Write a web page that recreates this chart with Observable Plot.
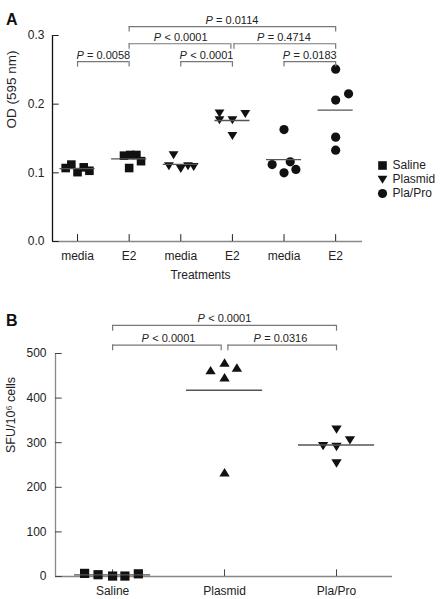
<!DOCTYPE html>
<html><head><meta charset="utf-8">
<script src="https://cdn.jsdelivr.net/npm/d3@7"></script>
<script src="https://cdn.jsdelivr.net/npm/@observablehq/plot@0.6"></script>
<style>
body{margin:0;background:#fff;}
#wrap{position:relative;width:444px;height:599px;font-family:"Liberation Sans",Arial,sans-serif;overflow:hidden;}
#wrap > .abs{position:absolute;}
.panel{position:absolute;font:bold 16px/16px "Liberation Sans",Arial,sans-serif;color:#111;}
svg{overflow:visible;}
</style></head><body><div id="wrap"></div>
<script>
// ---------- Panel A data ----------
const treatmentLabelsA = ["media","E2","media","E2","media","E2"];
const groupOfColumnA = ["Saline","Saline","Plasmid","Plasmid","Pla/Pro","Pla/Pro"];
const odSalineMedia   = [0.107, 0.112, 0.101, 0.108, 0.103];
const odSalineE2      = [0.125, 0.126, 0.126, 0.117, 0.107];
const odPlasmidMedia  = [0.126, 0.110, 0.106, 0.110, 0.109];
const odPlasmidE2     = [0.187, 0.177, 0.177, 0.186, 0.154];
const odPlaProMedia   = [0.163, 0.112, 0.100, 0.116, 0.105];
const odPlaProE2      = [0.251, 0.206, 0.215, 0.152, 0.133];
const odColumns = [odSalineMedia, odSalineE2, odPlasmidMedia, odPlasmidE2, odPlaProMedia, odPlaProE2];
// horizontal scatter of the points within each column (category units)
const jitterA = [
  [-0.23, -0.12, 0, 0.12, 0.23],
  [-0.10, 0.02, 0.14, 0.23, 0],
  [-0.14, -0.23, 0, 0.14, 0.25],
  [-0.25, -0.25, 0, 0.25, 0],
  [0, -0.23, 0, 0.12, 0.23],
  [0, 0, 0.25, 0, 0]
];
const yTicksA = [0, 0.1, 0.2, 0.3];
const bracketFromA  = [0, 2, 4, 1, 3, 1];
const bracketToA    = [1, 3, 5, 3, 5, 5];
const bracketTierA  = [0, 0, 0, 1, 1, 2];
const bracketLabelA = ["P = 0.0058","P < 0.0001","P = 0.0183","P < 0.0001","P = 0.4714","P = 0.0114"];

// ---------- Panel B data ----------
const groupsB = ["Saline","Plasmid","Pla/Pro"];
const sfuSaline  = [7, 4, 1, 1, 6];
const sfuPlasmid = [462, 479, 468, 446, 233];
const sfuPlaPro  = [330, 306, 293, 291, 254];
const sfuColumns = [sfuSaline, sfuPlasmid, sfuPlaPro];
const jitterB = [
  [-0.25, -0.13, 0, 0.11, 0.23],
  [-0.125, 0, 0.11, 0, 0],
  [0, 0.12, -0.12, 0, 0]
];
const yTicksB = [0, 100, 200, 300, 400, 500];
const bracketFromB  = [0, 0, 1];
const bracketToB    = [2, 1, 2];
const bracketTierB  = [1, 0, 0];
const bracketLabelB = ["P < 0.0001","P < 0.0001","P = 0.0316"];

const legendGroups = ["Saline","Plasmid","Pla/Pro"];

// ---------- symbols ----------
const squareSym = {draw(ctx, size){const r=Math.sqrt(size/Math.PI); ctx.rect(-r,-r,2*r,2*r);}};
const triDown = {draw(ctx, size){const r=Math.sqrt(size/Math.PI); ctx.moveTo(-1.2*r,-0.9*r); ctx.lineTo(1.2*r,-0.9*r); ctx.lineTo(0,1.05*r); ctx.closePath();}};
const triUp = {draw(ctx, size){const r=Math.sqrt(size/Math.PI); ctx.moveTo(-1.2*r,0.9*r); ctx.lineTo(1.2*r,0.9*r); ctx.lineTo(0,-1.05*r); ctx.closePath();}};
const INK = "#111";

function buildRows(columns, jitter, groupOf){
  const out = [];
  columns.forEach((vals, i) => vals.forEach((v, j) => out.push({i, x: i + jitter[i][j], value: v, group: groupOf[i]})));
  return out;
}
function buildMeans(columns){ return columns.map((vals, i) => ({i, mean: d3.mean(vals)})); }
function buildBrackets(from, to, tier, label){
  const b = from.map((f, k) => ({from: f, to: to[k], tier: tier[k], label: label[k]}));
  const gap = 0.03;
  b.forEach(d => {
    d.x1 = d.from; d.x2 = d.to;
    if (b.some(e => e !== d && e.tier === d.tier && e.to === d.from)) d.x1 += gap;
    if (b.some(e => e !== d && e.tier === d.tier && e.from === d.to)) d.x2 -= gap;
    d.mid = (d.from + d.to) / 2;
  });
  return b;
}
function bracketMarks(br, tierY, drop, stroke){
  const segs = [];
  br.forEach(d => { segs.push({x: d.x1, y: tierY[d.tier]}); segs.push({x: d.x2, y: tierY[d.tier]}); });
  return [
    Plot.ruleY(br, {y: d => tierY[d.tier], x1: "x1", x2: "x2", stroke, strokeWidth: 1.2}),
    Plot.ruleX(segs, {x: "x", y1: d => d.y - drop, y2: "y", stroke, strokeWidth: 1.2}),
    Plot.text(br, {x: "mid", y: d => tierY[d.tier], text: () => "P", fontStyle: "italic", fontSize: 11, lineAnchor: "bottom", dy: -3, dx: -23.3, fill: "#222"}),
    Plot.text(br, {x: "mid", y: d => tierY[d.tier], text: d => d.label.slice(1), fontSize: 11, lineAnchor: "bottom", textAnchor: "start", dy: -3, dx: -19.4, fill: "#222"})
  ];
}

const wrap = document.getElementById("wrap");
function place(node, left, top){ const d=document.createElement("div"); d.className="abs"; d.style.left=left+"px"; d.style.top=top+"px"; d.appendChild(node); wrap.appendChild(d); }

// ---------- Panel A ----------
const rowsA = buildRows(odColumns, jitterA, groupOfColumnA);
const meansA = buildMeans(odColumns);
const bracketsA = buildBrackets(bracketFromA, bracketToA, bracketTierA, bracketLabelA);
const xDomA = [-0.485, 5.52];
const symbolA = {"Saline": [squareSym, 4.3], "Plasmid": [triDown, 4.1], "Pla/Pro": ["circle", 4.6]};

const plotA = Plot.plot({
  width: 444, height: 286,
  marginLeft: 52, marginRight: 82, marginTop: 35, marginBottom: 45,
  style: {fontFamily: "'Liberation Sans', Arial, sans-serif", fontSize: "12px", color: "#222", background: "transparent", overflow: "visible"},
  x: {domain: xDomA, ticks: d3.range(6), tickFormat: i => treatmentLabelsA[i], tickSize: 0, tickPadding: 10, label: null},
  y: {domain: [0, 0.3], ticks: yTicksA, tickFormat: d3.format(".1f"), tickSize: 0, tickPadding: 8, label: null},
  marks: [
    Plot.ruleY([0], {stroke: "#888", strokeWidth: 1.3}),
    Plot.ruleX([xDomA[0]], {stroke: "#111", strokeWidth: 1.3}),
    Plot.ruleY(yTicksA, {y: d => d, x1: xDomA[0], x2: xDomA[0] + 0.13, stroke: "#222"}),
    Plot.ruleX(d3.range(6), {x: d => d, y1: 0, y2: 0.01, stroke: "#222"}),
    ...Object.entries(symbolA).map(([g, [sym, r]]) =>
      Plot.dot(rowsA.filter(d => d.group === g), {x: "x", y: "value", symbol: sym, r, fill: INK, stroke: "none"})),
    Plot.ruleY(meansA, {y: "mean", x1: d => d.i - 0.34, x2: d => d.i + 0.34, stroke: "#555", strokeWidth: 1.3}),
    ...bracketMarks(bracketsA, [0.262, 0.288, 0.313], 0.008, "#777"),
    Plot.text(["Treatments"], {frameAnchor: "bottom", dy: 37, dx: -7, fontSize: 12, fill: "#222"}),
    Plot.text(["OD (595 nm)"], {frameAnchor: "left", rotate: -90, dx: -41, dy: -10, fontSize: 13.5, fill: "#222"})
  ]
});
place(plotA, 0, 0);

// legend
const legendSym = {"Saline": [squareSym, 4.3], "Plasmid": [triDown, 4.1], "Pla/Pro": ["circle", 4.6]};
const legend = Plot.plot({
  width: 74, height: 66, margin: 0,
  style: {fontFamily: "'Liberation Sans', Arial, sans-serif", fontSize: "12px", background: "transparent", overflow: "visible"},
  x: {axis: null},
  y: {type: "point", domain: legendGroups, range: [11.5, 56], axis: null},
  marks: [
    ...legendGroups.map(g => Plot.dot([g], {y: d => d, frameAnchor: "left", dx: 12, symbol: legendSym[g][0], r: legendSym[g][1], fill: INK})),
    Plot.text(legendGroups, {y: d => d, frameAnchor: "left", dx: 22, textAnchor: "start", fill: "#222", fontSize: 12})
  ]
});
place(legend, 370, 145);

const labA = document.createElement("div"); labA.className = "panel"; labA.textContent = "A"; labA.style.left = "6px"; labA.style.top = "12px"; wrap.appendChild(labA);

// ---------- Panel B ----------
const rowsB = buildRows(sfuColumns, jitterB, groupsB);
const meansB = buildMeans(sfuColumns);
const bracketsB = buildBrackets(bracketFromB, bracketToB, bracketTierB, bracketLabelB);
const xDomB = [-0.51, 2.5];
const symbolB = {"Saline": [squareSym, 4.6], "Plasmid": [triUp, 4.3], "Pla/Pro": [triDown, 4.3]};

const plotB = Plot.plot({
  width: 444, height: 299,
  marginLeft: 55, marginRight: 52, marginTop: 53, marginBottom: 23,
  style: {fontFamily: "'Liberation Sans', Arial, sans-serif", fontSize: "12px", color: "#222", background: "transparent", overflow: "visible"},
  x: {domain: xDomB, ticks: d3.range(3), tickFormat: i => groupsB[i], tickSize: 0, tickPadding: 10, label: null},
  y: {domain: [0, 500], ticks: yTicksB, tickSize: 0, tickPadding: 9, label: null},
  marks: [
    Plot.ruleY([0], {stroke: "#888", strokeWidth: 1.3}),
    Plot.ruleX([xDomB[0]], {stroke: "#888", strokeWidth: 1.3}),
    Plot.ruleY(yTicksB, {y: d => d, x1: xDomB[0], x2: xDomB[0] + 0.06, stroke: "#444"}),
    Plot.ruleX(d3.range(3), {x: d => d, y1: 0, y2: 15, stroke: "#444"}),
    ...Object.entries(symbolB).map(([g, [sym, r]]) =>
      Plot.dot(rowsB.filter(d => d.group === g), {x: "x", y: "value", symbol: sym, r, fill: INK, stroke: "none"})),
    Plot.ruleY(meansB, {y: "mean", x1: d => d.i - 0.34, x2: d => d.i + 0.34, stroke: "#555", strokeWidth: 1.3}),
    ...bracketMarks(bracketsB, [519, 563], 13, "#777"),
    Plot.text(["SFU/10⁶ cells"], {frameAnchor: "left", rotate: -90, dx: -45, dy: -12, fontSize: 12.5, fill: "#222"})
  ]
});
place(plotB, 0, 300);

const labB = document.createElement("div"); labB.className = "panel"; labB.textContent = "B"; labB.style.left = "6px"; labB.style.top = "313px"; wrap.appendChild(labB);
</script>
</body></html>
